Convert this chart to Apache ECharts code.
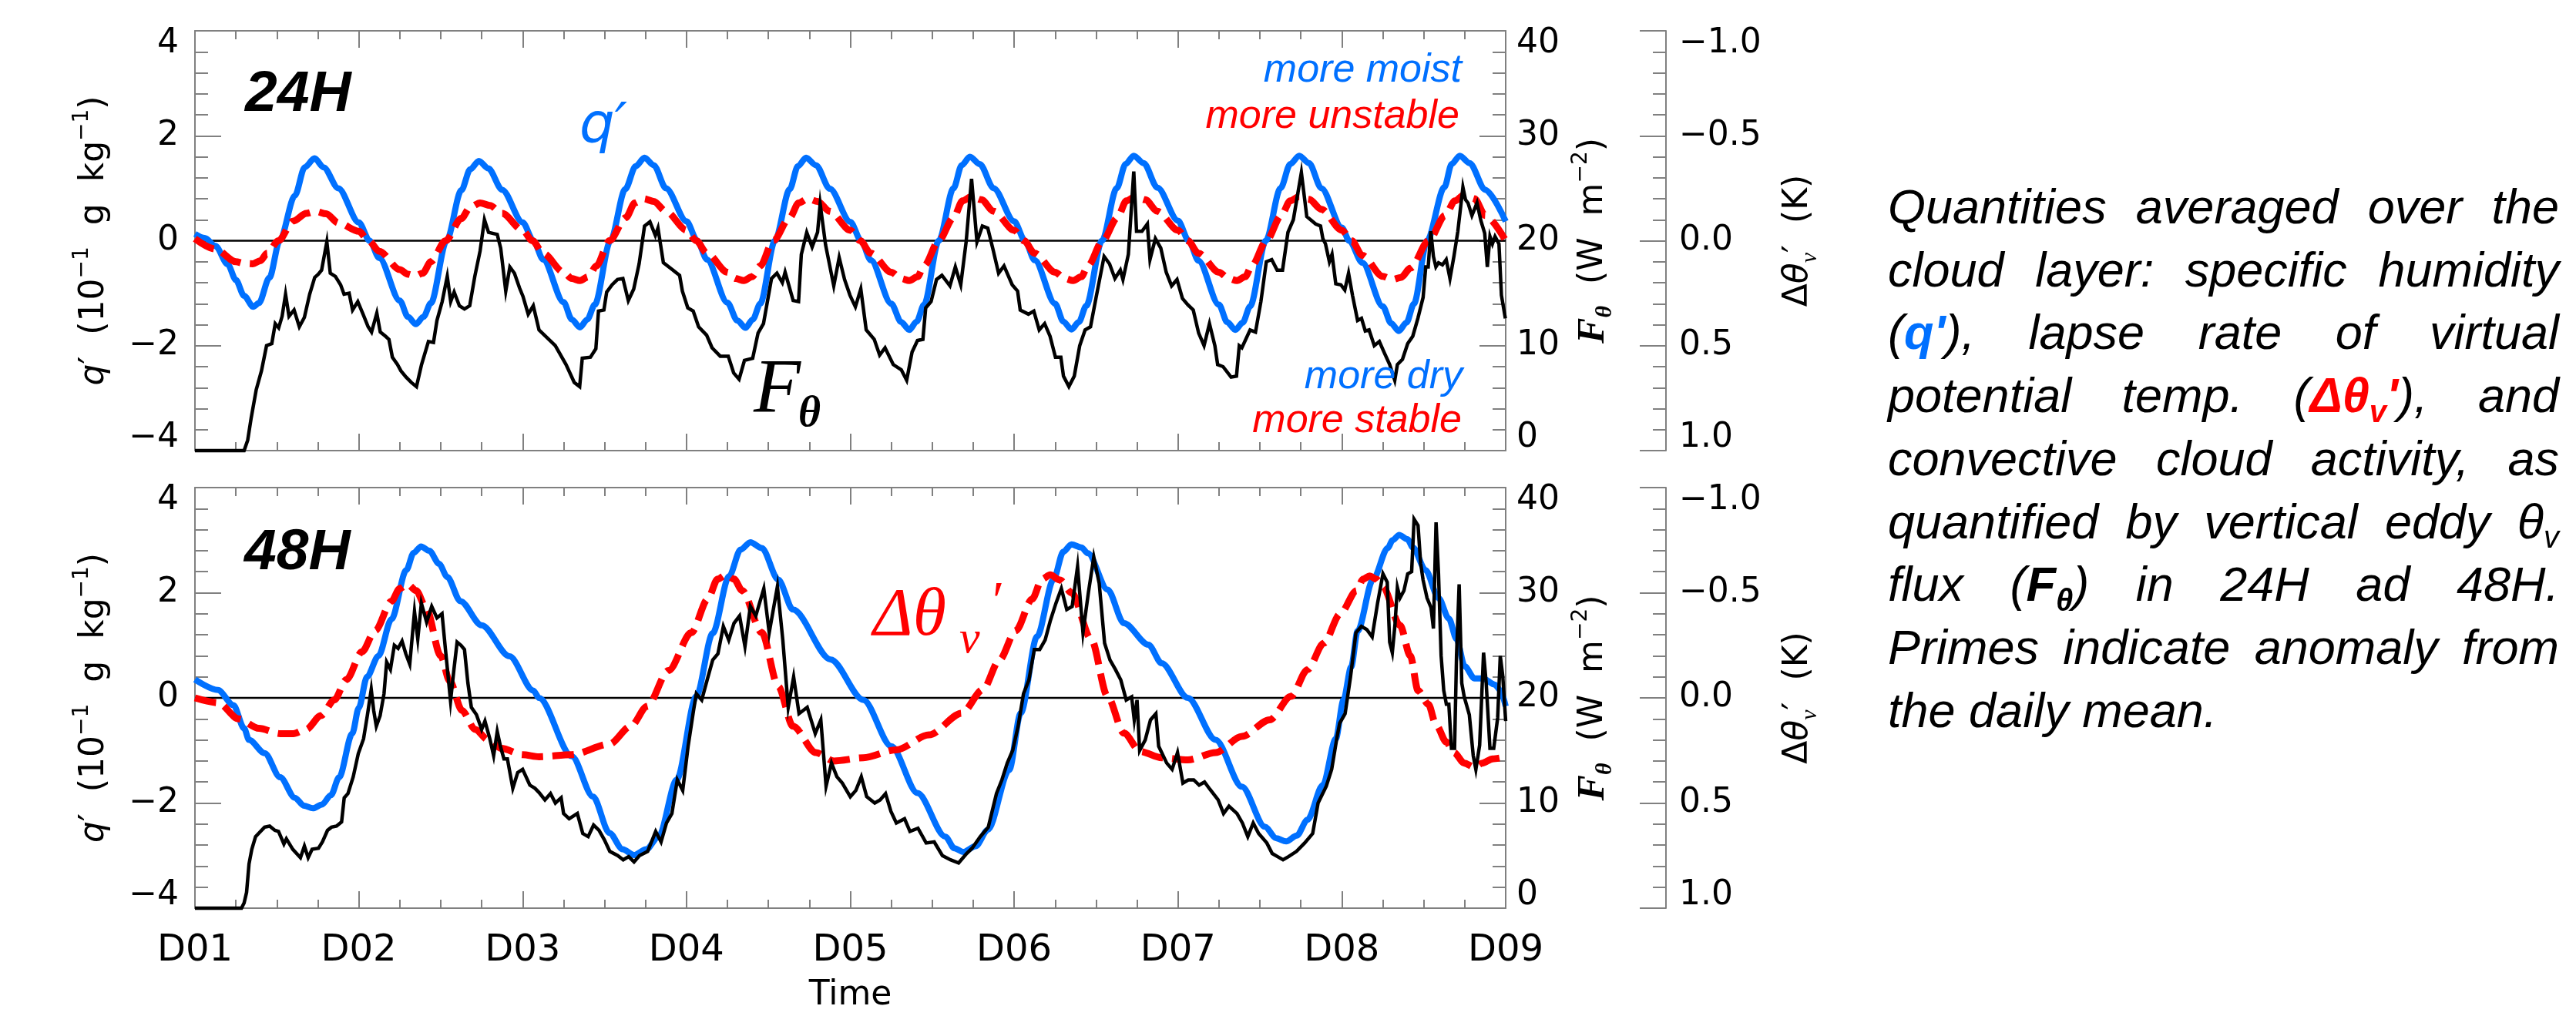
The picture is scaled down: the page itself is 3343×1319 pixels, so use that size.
<!DOCTYPE html>
<html>
<head>
<meta charset="utf-8">
<title>q', Δθv' and Fθ in 24H and 48H</title>
<script src="https://cdn.jsdelivr.net/npm/echarts@6.0.0/dist/echarts.min.js"></script>
<style>
html, body { margin: 0; padding: 0; background: #fff; }
#main { width: 3343px; height: 1319px; }
</style>
</head>
<body>
<div id="main"></div>
<script>
// ---- data (time in days from D01) ----
var dayLabels = ['D01', 'D02', 'D03', 'D04', 'D05', 'D06', 'D07', 'D08', 'D09'];
var zeroRef = [[0, 0], [8, 0]];

// 24H: q' (10^-1 g/kg)
var q24 = [[0,0.13],[0.06,0.05],[0.125,-0.1],[0.2,-0.45],[0.25,-0.75],[0.3,-1.05],[0.356,-1.26],[0.39,-1.19],[0.455,-0.7],[0.517,0],[0.61,0.86],[0.67,1.4],[0.73,1.57],[0.785,1.4],[0.875,1.0],[1.0,0.35],
  [1.066,0],[1.125,-0.33],[1.25,-1.14],[1.3,-1.45],[1.348,-1.59],[1.395,-1.45],[1.44,-1.19],[1.536,0],[1.626,0.96],[1.68,1.36],[1.733,1.52],[1.79,1.38],[1.875,0.97],[2.0,0.35],
  [2.066,0],[2.125,-0.36],[2.25,-1.17],[2.3,-1.5],[2.35,-1.65],[2.395,-1.5],[2.44,-1.22],[2.536,0],[2.626,0.98],[2.69,1.42],[2.744,1.58],[2.8,1.44],[2.875,1.0],[3.0,0.37],
  [3.066,0],[3.125,-0.36],[3.25,-1.18],[3.31,-1.52],[3.36,-1.66],[3.405,-1.5],[3.45,-1.2],[3.54,0],[3.63,0.98],[3.68,1.42],[3.73,1.58],[3.79,1.44],[3.875,0.99],[4.0,0.36],
  [4.066,0],[4.125,-0.37],[4.25,-1.2],[4.31,-1.55],[4.36,-1.7],[4.405,-1.54],[4.45,-1.22],[4.54,0],[4.63,1.0],[4.68,1.44],[4.73,1.6],[4.79,1.46],[4.875,1.0],[5.0,0.37],
  [5.066,0],[5.125,-0.37],[5.25,-1.2],[5.3,-1.54],[5.35,-1.69],[5.395,-1.55],[5.44,-1.24],[5.536,0],[5.626,1.0],[5.68,1.46],[5.73,1.62],[5.79,1.48],[5.875,1.01],[6.0,0.38],
  [6.066,0],[6.125,-0.38],[6.25,-1.22],[6.3,-1.55],[6.35,-1.7],[6.395,-1.56],[6.44,-1.25],[6.536,0],[6.626,1.0],[6.685,1.46],[6.74,1.62],[6.8,1.48],[6.875,1.0],[7.0,0.25],
  [7.045,0],[7.125,-0.42],[7.25,-1.25],[7.3,-1.57],[7.347,-1.72],[7.395,-1.56],[7.44,-1.2],[7.52,0],[7.626,1.02],[7.67,1.46],[7.72,1.62],[7.78,1.48],[7.875,0.97],[8.0,0.37]];

// 24H: delta theta_v' (K)
var dtv24 = [[0,-0.01],[0.125,0.04],[0.25,0.1],[0.3,0.108],[0.353,0.11],[0.4,0.095],[0.44,0.06],[0.51,0],[0.6,-0.094],[0.68,-0.13],[0.737,-0.14],[0.8,-0.128],[0.875,-0.085],[1.0,-0.045],
  [1.06,0],[1.125,0.05],[1.25,0.138],[1.3,0.16],[1.342,0.168],[1.39,0.155],[1.44,0.1],[1.53,0],[1.626,-0.106],[1.68,-0.16],[1.74,-0.18],[1.8,-0.168],[1.875,-0.13],[2.0,-0.05],
  [2.06,0],[2.125,0.06],[2.25,0.15],[2.3,0.18],[2.35,0.19],[2.4,0.172],[2.45,0.12],[2.53,0],[2.63,-0.11],[2.685,-0.18],[2.74,-0.2],[2.8,-0.187],[2.875,-0.14],[3.0,-0.05],
  [3.06,0],[3.125,0.06],[3.25,0.15],[3.3,0.18],[3.35,0.19],[3.4,0.172],[3.45,0.12],[3.53,0],[3.63,-0.11],[3.685,-0.18],[3.74,-0.2],[3.8,-0.187],[3.875,-0.14],[4.0,-0.05],
  [4.06,0],[4.125,0.06],[4.25,0.15],[4.31,0.18],[4.36,0.19],[4.41,0.172],[4.45,0.12],[4.54,0],[4.63,-0.11],[4.685,-0.19],[4.74,-0.21],[4.8,-0.195],[4.875,-0.14],[5.0,-0.05],
  [5.06,0],[5.125,0.06],[5.25,0.15],[5.31,0.18],[5.36,0.19],[5.41,0.172],[5.45,0.12],[5.54,0],[5.63,-0.11],[5.685,-0.19],[5.74,-0.21],[5.8,-0.195],[5.875,-0.14],[6.0,-0.05],
  [6.06,0],[6.125,0.06],[6.25,0.15],[6.31,0.18],[6.36,0.19],[6.41,0.172],[6.45,0.12],[6.54,0],[6.63,-0.12],[6.685,-0.19],[6.74,-0.21],[6.8,-0.197],[6.875,-0.15],[7.0,-0.05],
  [7.06,0],[7.125,0.07],[7.25,0.17],[7.31,0.185],[7.36,0.175],[7.42,0.13],[7.53,0],[7.63,-0.12],[7.69,-0.19],[7.75,-0.22],[7.81,-0.2],[7.875,-0.12],[8.0,0.0]];

// 24H: F_theta (W m^-2)
var ftheta24 = [[0,0],[0.3,0],[0.322,1.0],[0.343,3.1],[0.374,5.8],[0.406,7.6],[0.437,10.0],[0.469,10.2],[0.49,12.1],[0.511,11.7],[0.532,12.8],[0.553,14.9],[0.574,12.8],[0.605,13.4],[0.637,11.8],[0.668,12.7],[0.7,14.9],[0.731,16.5],[0.752,16.8],[0.773,17.2],[0.805,19.9],[0.826,16.9],[0.857,16.6],[0.889,15.8],[0.91,14.9],[0.941,15.0],[0.962,13.4],[0.994,14.2],
  [1.026,13.0],[1.057,11.8],[1.078,11.3],[1.11,13.1],[1.131,11.3],[1.163,10.9],[1.184,10.6],[1.205,8.9],[1.236,8.2],[1.257,7.6],[1.289,7.0],[1.32,6.5],[1.352,6.1],[1.383,8.2],[1.425,10.4],[1.456,10.3],[1.477,12.4],[1.509,14.2],[1.54,16.6],[1.561,14.2],[1.582,15.1],[1.614,13.8],[1.645,13.5],[1.677,13.8],[1.708,16.6],[1.74,19.0],[1.767,22.0],[1.792,20.8],[1.845,20.6],[1.866,19.3],[1.897,15.2],[1.922,17.5],[1.95,16.9],[1.981,15.5],
  [2.002,14.7],[2.034,13.0],[2.065,13.8],[2.1,11.5],[2.199,10.0],[2.265,8.2],[2.315,6.5],[2.348,6.1],[2.364,8.8],[2.414,8.9],[2.447,9.7],[2.463,13.3],[2.496,13.4],[2.513,15.1],[2.546,15.8],[2.579,16.3],[2.612,16.4],[2.645,14.3],[2.678,15.4],[2.711,17.8],[2.744,21.4],[2.777,21.8],[2.81,20.5],[2.826,21.2],[2.859,17.9],[2.909,17.3],[2.958,16.7],[2.975,15.2],
  [3.008,13.6],[3.041,13.3],[3.074,11.8],[3.123,11.0],[3.156,9.8],[3.206,9.0],[3.255,9.0],[3.288,7.4],[3.321,6.8],[3.354,8.6],[3.404,8.8],[3.437,11.2],[3.47,12.1],[3.519,16.4],[3.552,16.9],[3.585,16.0],[3.602,17.0],[3.651,14.3],[3.684,14.2],[3.701,18.7],[3.734,20.8],[3.767,19.4],[3.8,20.8],[3.816,23.5],[3.849,19.6],[3.899,15.7],[3.932,18.4],[3.965,16.3],[3.998,14.8],
  [4.031,13.7],[4.064,15.4],[4.097,11.5],[4.146,10.6],[4.179,9.1],[4.212,9.8],[4.262,8.2],[4.311,7.7],[4.344,6.7],[4.377,9.4],[4.41,10.5],[4.443,10.6],[4.46,13.6],[4.493,14.2],[4.526,16.3],[4.559,16.7],[4.608,15.7],[4.641,17.5],[4.674,15.8],[4.707,19.9],[4.74,25.9],[4.773,19.9],[4.806,21.4],[4.839,21.2],[4.872,19.1],[4.905,16.9],[4.938,17.6],[4.988,15.8],
  [5.021,15.2],[5.037,13.4],[5.087,13.0],[5.12,13.3],[5.153,11.5],[5.186,12.1],[5.219,10.9],[5.252,8.9],[5.285,8.9],[5.301,7.1],[5.334,6.1],[5.367,7.1],[5.4,10.0],[5.433,11.5],[5.466,11.8],[5.499,14.5],[5.549,18.5],[5.582,17.8],[5.615,16.4],[5.648,17.2],[5.664,16.3],[5.697,18.7],[5.73,26.6],[5.747,20.9],[5.78,20.9],[5.813,21.6],[5.829,18.2],[5.862,20.2],[5.895,19.3],[5.928,17.0],[5.961,15.7],[5.994,16.3],
  [6.027,14.5],[6.06,13.9],[6.093,13.4],[6.126,11.2],[6.159,10.0],[6.192,12.1],[6.225,10.0],[6.242,8.2],[6.275,8.0],[6.324,7.0],[6.357,7.1],[6.374,10.0],[6.39,9.8],[6.44,11.5],[6.473,11.3],[6.506,14.2],[6.539,18.0],[6.572,18.2],[6.605,17.2],[6.638,17.2],[6.671,20.8],[6.704,22.0],[6.753,26.5],[6.786,22.3],[6.84,21.6],[6.87,21.4],[6.884,20.2],[6.9,19.7],[6.924,18.0],[6.94,18.7],[6.963,15.9],[6.994,15.8],
  [7.018,15.3],[7.041,16.9],[7.065,14.8],[7.096,12.4],[7.12,12.6],[7.143,11.4],[7.166,11.5],[7.198,10.0],[7.229,10.4],[7.26,9.3],[7.292,8.2],[7.323,6.7],[7.339,8.2],[7.37,8.7],[7.402,10.2],[7.433,10.9],[7.464,12.6],[7.496,14.6],[7.512,17.5],[7.527,17.5],[7.543,20.9],[7.559,18.5],[7.574,17.5],[7.59,17.9],[7.614,17.7],[7.637,18.2],[7.66,16.4],[7.684,18.5],[7.708,20.9],[7.739,25.1],[7.755,23.9],[7.77,23.6],[7.794,22.4],[7.825,23.6],[7.849,21.9],[7.872,20.7],[7.888,17.5],[7.904,20.4],[7.919,19.7],[7.935,20.4],[7.959,19.7],[7.974,14.8],[7.998,12.6]];

// 48H: q'
var q48 = [[0,0.35],[0.14,0.15],[0.235,-0.14],[0.3,-0.58],[0.33,-0.8],[0.425,-1.05],[0.52,-1.51],[0.61,-1.9],[0.665,-2.05],[0.72,-2.1],[0.775,-2.03],[0.83,-1.85],[0.88,-1.51],[0.96,-0.68],[1.0,-0.19],[1.05,0.4],[1.12,0.8],[1.2,1.5],[1.29,2.43],[1.335,2.76],[1.38,2.88],[1.43,2.8],[1.49,2.55],[1.54,2.3],[1.62,1.84],[1.75,1.38],[1.92,0.79],[2.065,0.14],
  [2.1,0],[2.3,-1.11],[2.43,-1.88],[2.53,-2.57],[2.61,-2.88],[2.68,-2.99],[2.755,-2.88],[2.83,-2.64],[2.94,-1.56],[3.06,0.03],[3.16,1.23],[3.26,2.31],[3.33,2.82],[3.39,2.96],[3.46,2.85],[3.56,2.25],[3.65,1.68],[3.88,0.73],[4.08,-0.04],[4.25,-0.92],[4.41,-1.81],[4.58,-2.64],[4.635,-2.86],[4.69,-2.93],[4.765,-2.82],[4.84,-2.51],[4.97,-1.37],[5.04,-0.29],[5.14,1.17],[5.24,2.25],[5.3,2.78],[5.35,2.92],[5.41,2.86],[5.45,2.75],[5.57,2.06],[5.67,1.42],[5.82,1.01],[5.9,0.66],
  [6.06,0],[6.23,-0.8],[6.39,-1.69],[6.53,-2.45],[6.6,-2.67],[6.66,-2.73],[6.725,-2.62],[6.79,-2.32],[6.884,-1.66],[6.963,-0.78],[7.01,-0.04],[7.057,0.59],[7.096,1.27],[7.19,2.25],[7.28,2.85],[7.31,3.0],[7.35,3.1],[7.4,3.02],[7.434,2.86],[7.511,2.43],[7.59,1.9],[7.653,1.51],[7.7,1.12],[7.75,0.6],[7.81,0.37],[7.86,0.37],[7.935,0.25],[7.966,0.15],[8.0,-0.16]];

// 48H: delta theta_v'
var dtv48 = [[0,0.0],[0.141,0.023],[0.267,0.1],[0.39,0.145],[0.52,0.17],[0.6,0.17],[0.678,0.15],[0.77,0.084],[0.85,0.01],[0.925,-0.087],[1.02,-0.22],[1.1,-0.32],[1.2,-0.46],[1.25,-0.52],[1.298,-0.54],[1.35,-0.51],[1.41,-0.43],[1.5,-0.2],[1.555,-0.08],[1.63,0.06],[1.71,0.15],[1.79,0.2],[1.87,0.24],[2.0,0.27],
  [2.1,0.28],[2.3,0.27],[2.53,0.22],[2.66,0.135],[2.76,0.04],[2.89,-0.13],[3.03,-0.31],[3.13,-0.47],[3.19,-0.565],[3.24,-0.585],[3.29,-0.565],[3.34,-0.51],[3.46,-0.31],[3.56,-0.055],[3.65,0.135],[3.79,0.26],[3.9,0.3],[4.08,0.285],[4.28,0.247],[4.48,0.176],[4.68,0.073],[4.81,-0.04],[4.91,-0.18],[5.01,-0.32],[5.11,-0.47],[5.17,-0.565],[5.22,-0.585],[5.28,-0.56],[5.35,-0.5],[5.47,-0.28],[5.57,-0.007],[5.67,0.168],[5.77,0.255],[5.9,0.285],
  [6.06,0.295],[6.23,0.26],[6.39,0.183],[6.56,0.104],[6.69,-0.007],[6.79,-0.134],[6.89,-0.26],[6.99,-0.4],[7.09,-0.51],[7.13,-0.565],[7.17,-0.58],[7.21,-0.565],[7.25,-0.53],[7.355,-0.345],[7.418,-0.2],[7.465,-0.035],[7.528,0.03],[7.575,0.128],[7.638,0.21],[7.684,0.26],[7.747,0.31],[7.81,0.33],[7.857,0.31],[7.92,0.29],[8.0,0.28]];

// 48H: F_theta
var ftheta48 = [[0,0],[0.284,0],[0.3,0.5],[0.315,1.5],[0.33,4.2],[0.347,5.6],[0.37,6.8],[0.394,7.2],[0.425,7.7],[0.456,7.8],[0.488,7.4],[0.51,7.3],[0.543,6.1],[0.558,6.6],[0.597,5.6],[0.644,4.8],[0.668,5.9],[0.691,4.8],[0.715,5.6],[0.754,5.7],[0.778,6.3],[0.809,7.4],[0.833,7.7],[0.864,7.8],[0.895,8.2],[0.911,10.5],[0.934,10.9],[0.966,12.5],[0.997,14.7],
  [1.029,16.1],[1.052,18.3],[1.076,20.8],[1.091,18.8],[1.107,17.3],[1.13,18.3],[1.154,20.4],[1.17,23.4],[1.193,22.7],[1.217,25.0],[1.24,24.7],[1.264,25.4],[1.287,24.2],[1.311,23.2],[1.34,28.2],[1.36,25.6],[1.382,29.0],[1.414,27.2],[1.445,28.7],[1.477,27.6],[1.508,28.0],[1.529,24.6],[1.56,19.7],[1.58,22.6],[1.6,25.3],[1.624,25.0],[1.645,24.6],[1.666,21.4],[1.687,19.1],[1.718,18.4],[1.75,17.0],[1.77,17.8],[1.8,16.1],[1.823,14.5],[1.845,16.8],[1.866,15.3],[1.886,14.2],[1.907,14.2],[1.94,11.4],[1.97,12.9],
  [2.0,13.2],[2.044,11.7],[2.075,11.4],[2.1,11.0],[2.136,10.3],[2.17,10.9],[2.2,10.0],[2.235,10.5],[2.25,9.0],[2.284,8.5],[2.334,9.0],[2.367,7.1],[2.4,6.8],[2.433,7.9],[2.466,7.4],[2.499,6.5],[2.532,5.4],[2.58,5.0],[2.614,4.6],[2.647,4.9],[2.68,4.4],[2.713,5.0],[2.763,5.4],[2.812,7.3],[2.845,6.3],[2.878,8.1],[2.911,9.0],[2.944,12.2],[2.977,11.2],
  [3.01,15.4],[3.043,18.8],[3.06,20.4],[3.093,19.8],[3.126,21.7],[3.16,23.6],[3.192,24.2],[3.225,26.8],[3.258,25.5],[3.29,27.1],[3.324,27.8],[3.357,24.9],[3.39,28.7],[3.423,27.8],[3.472,30.4],[3.505,26.2],[3.555,30.6],[3.588,25.5],[3.621,19.1],[3.654,22.0],[3.687,18.5],[3.737,19.1],[3.786,16.6],[3.82,17.9],[3.852,11.6],[3.885,13.8],[3.918,12.5],[3.951,11.9],
  [4.0,10.6],[4.034,11.2],[4.067,12.5],[4.1,10.6],[4.149,10.0],[4.182,10.3],[4.215,10.9],[4.248,9.2],[4.281,8.1],[4.331,8.5],[4.364,7.3],[4.413,7.6],[4.463,6.2],[4.512,6.3],[4.562,5.0],[4.611,4.6],[4.661,4.3],[4.71,5.2],[4.743,5.7],[4.793,6.8],[4.842,7.7],[4.892,10.9],[4.925,12.2],[4.958,13.8],[4.991,15.0],
  [5.024,17.3],[5.057,20.4],[5.09,21.7],[5.123,24.6],[5.156,24.6],[5.189,25.5],[5.222,27.4],[5.255,29.0],[5.288,30.4],[5.321,28.4],[5.354,28.7],[5.387,32.5],[5.42,26.2],[5.453,30.0],[5.486,33.4],[5.519,30.9],[5.552,25.2],[5.585,23.6],[5.618,22.7],[5.651,21.7],[5.684,19.8],[5.717,20.1],[5.733,17.9],[5.75,19.8],[5.766,15.0],[5.8,16.0],[5.832,17.9],[5.865,18.5],[5.882,15.4],[5.931,13.8],[5.964,13.2],[5.997,14.8],
  [6.03,11.9],[6.063,12.2],[6.096,12.2],[6.129,11.7],[6.162,12.0],[6.195,11.3],[6.245,10.3],[6.278,9.0],[6.311,9.7],[6.36,9.0],[6.393,8.1],[6.426,6.8],[6.459,8.1],[6.492,7.1],[6.542,6.2],[6.575,5.2],[6.608,4.9],[6.641,4.6],[6.674,4.9],[6.723,5.4],[6.773,6.2],[6.822,7.1],[6.855,10.0],[6.905,11.6],[6.938,13.2],[6.971,16.3],[6.987,17.6],
  [7.02,18.5],[7.053,22.0],[7.086,26.2],[7.119,26.8],[7.152,26.5],[7.185,25.8],[7.218,29.0],[7.251,31.8],[7.277,31.0],[7.292,25.3],[7.308,24.3],[7.324,26.9],[7.339,30.5],[7.355,29.5],[7.379,30.2],[7.402,31.8],[7.426,32.0],[7.441,37.0],[7.465,36.4],[7.481,32.8],[7.496,31.2],[7.52,29.5],[7.544,28.6],[7.559,26.6],[7.575,36.7],[7.59,31.8],[7.606,24.0],[7.622,20.7],[7.638,19.4],[7.653,19.4],[7.669,15.2],[7.688,15.2],
  [7.7,24.0],[7.716,30.8],[7.732,21.4],[7.747,20.1],[7.778,18.4],[7.802,14.5],[7.818,13.2],[7.841,15.5],[7.865,24.3],[7.881,21.4],[7.904,15.2],[7.927,15.2],[7.951,18.1],[7.967,24.0],[7.982,22.1],[8.0,17.8]];

// caption on the right, one entry per line; [text, style] runs for mixed words
var noteLines = [
  ['Quantities', 'averaged', 'over', 'the'],
  ['cloud', 'layer:', 'specific', 'humidity'],
  [[['(', 'n'], ["q'", 'qb'], ['),', 'n']], 'lapse', 'rate', 'of', 'virtual'],
  ['potential', 'temp.', [['(', 'n'], ['Δθ', 'rb'], ['v', 'rbs'], ["'", 'rb'], ['),', 'n']], 'and'],
  ['convective', 'cloud', 'activity,', 'as'],
  ['quantified', 'by', 'vertical', 'eddy', [['θ', 'n'], ['v', 'ns']]],
  ['flux', [['(', 'n'], ['F', 'b'], ['θ', 'bs'], [')', 'n']], 'in', '24H', 'ad', '48H.'],
  ['Primes', 'indicate', 'anomaly', 'from'],
  ['the', 'daily', 'mean.']
];

// ---- styling ----
var BLUE = '#0070FF', RED = '#FF0000', AXIS = '#808080';
var SANS = '"DejaVu Sans", sans-serif';
var MINUS = '\u2212';

var chart = echarts.init(document.getElementById('main'));

function fmtNum(v, d) {
  var s = d ? Math.abs(v).toFixed(d) : String(Math.abs(v));
  return (v < 0 ? MINUS : '') + s;
}
function near(a, b) { return Math.abs(a - b) < 1e-9; }

// tick labels at the box ends are pushed inside, like the original
function edgeFormatter(top, bottom, digits) {
  return function (v) {
    var s = fmtNum(v, digits);
    if (near(v, top)) return '{t|' + s + '}';
    if (near(v, bottom)) return '{b|' + s + '}';
    return '{n|' + s + '}';
  };
}
var tickRich = {
  n: { fontSize: 44, fontFamily: SANS, color: '#000' },
  t: { fontSize: 44, fontFamily: SANS, color: '#000', padding: [34, 0, 0, 0] },
  b: { fontSize: 44, fontFamily: SANS, color: '#000', padding: [0, 0, 32, 0] }
};
var lineGray = { color: AXIS, width: 2 };

function xAxisDays(gi, pos, labels) {
  return {
    type: 'value', gridIndex: gi, position: pos, min: 0, max: 8, interval: 1,
    axisLine: { show: true, onZero: false, lineStyle: lineGray },
    axisTick: { show: true, inside: true, length: 22, lineStyle: lineGray },
    minorTick: { show: true, splitNumber: 4, length: 11, lineStyle: lineGray },
    splitLine: { show: false },
    axisLabel: {
      show: labels, margin: 32, fontSize: 48, fontFamily: SANS, color: '#000',
      formatter: function (v) { return dayLabels[Math.round(v)]; }
    },
    name: labels ? 'Time' : '', nameLocation: 'middle', nameGap: 92,
    nameTextStyle: { fontSize: 44, fontFamily: SANS, color: '#000' }
  };
}

function yAxisQ(gi) {
  return {
    type: 'value', gridIndex: gi, position: 'left', min: -4, max: 4, interval: 2,
    axisLine: { show: true, onZero: false, lineStyle: lineGray },
    axisTick: { show: true, inside: true, length: 34, lineStyle: lineGray },
    minorTick: { show: true, splitNumber: 5, length: 17, lineStyle: lineGray },
    splitLine: { show: false },
    axisLabel: { margin: 21, formatter: edgeFormatter(4, -4, 0), rich: tickRich },
    name: '{i|q}{n|\u2032  (10}{s|' + MINUS + '1}{n|  g  kg}{s|' + MINUS + '1}{n|)}',
    nameLocation: 'middle', nameRotate: 90, nameGap: 100,
    nameTextStyle: {
      rich: {
        i: { fontSize: 44, fontFamily: SANS, fontStyle: 'italic', color: '#000', lineHeight: 60 },
        n: { fontSize: 44, fontFamily: SANS, color: '#000', lineHeight: 60 },
        s: { fontSize: 28, fontFamily: SANS, color: '#000', lineHeight: 28, verticalAlign: 'top' }
      }
    }
  };
}

function yAxisF(gi) {
  return {
    type: 'value', gridIndex: gi, position: 'right', min: 0, max: 40, interval: 10,
    axisLine: { show: true, onZero: false, lineStyle: lineGray },
    axisTick: { show: true, inside: true, length: 34, lineStyle: lineGray },
    minorTick: { show: true, splitNumber: 5, length: 17, lineStyle: lineGray },
    splitLine: { show: false },
    axisLabel: { margin: 14, formatter: edgeFormatter(40, 0, 0), rich: tickRich },
    name: '{f|F}{fs|\u03b8}{n|  (W  m}{s|' + MINUS + '2}{n|)}',
    nameLocation: 'middle', nameRotate: 90, nameGap: 84,
    nameTextStyle: {
      rich: {
        f: { fontSize: 50, fontFamily: '"Liberation Serif", serif', fontStyle: 'italic', fontWeight: 'bold', color: '#000', lineHeight: 60 },
        fs: { fontSize: 30, fontFamily: '"Liberation Serif", serif', fontStyle: 'italic', fontWeight: 'bold', color: '#000', lineHeight: 30, verticalAlign: 'bottom' },
        n: { fontSize: 44, fontFamily: SANS, color: '#000', lineHeight: 60 },
        s: { fontSize: 28, fontFamily: SANS, color: '#000', lineHeight: 28, verticalAlign: 'top' }
      }
    }
  };
}

function yAxisDT(gi) {
  return {
    type: 'value', gridIndex: gi, position: 'right', offset: 208, min: -1, max: 1, interval: 0.5, inverse: true,
    axisLine: { show: true, onZero: false, lineStyle: lineGray },
    axisTick: { show: true, inside: true, length: 34, lineStyle: lineGray },
    minorTick: { show: true, splitNumber: 5, length: 17, lineStyle: lineGray },
    splitLine: { show: false },
    axisLabel: { margin: 17, formatter: edgeFormatter(-1, 1, 1), rich: tickRich },
    name: '{n|\u0394}{i|\u03b8}{sub|v}{n|\u2032  (K)}',
    nameLocation: 'middle', nameRotate: 90, nameGap: 142,
    nameTextStyle: {
      rich: {
        n: { fontSize: 44, fontFamily: SANS, color: '#000', lineHeight: 60 },
        i: { fontSize: 44, fontFamily: SANS, fontStyle: 'italic', color: '#000', lineHeight: 60 },
        sub: { fontSize: 30, fontFamily: '"Liberation Serif", serif', fontStyle: 'italic', color: '#000', lineHeight: 30, verticalAlign: 'bottom' }
      }
    }
  };
}

function panelSeries(xi, yq, yf, yd, q, dtv, f) {
  return [
    { type: 'line', xAxisIndex: xi, yAxisIndex: yq, data: zeroRef, symbol: 'none', silent: true, z: 1,
      lineStyle: { color: '#000', width: 2.5 } },
    { type: 'line', xAxisIndex: xi, yAxisIndex: yq, data: q, symbol: 'none', smooth: 0.3, smoothMonotone: 'x', z: 2,
      lineStyle: { color: BLUE, width: 8 } },
    { type: 'line', xAxisIndex: xi, yAxisIndex: yd, data: dtv, symbol: 'none', smooth: 0.3, smoothMonotone: 'x', z: 3,
      lineStyle: { color: RED, width: 9, type: [28, 12], cap: 'butt' } },
    { type: 'line', xAxisIndex: xi, yAxisIndex: yf, data: f, symbol: 'none', clip: false, z: 4,
      lineStyle: { color: '#000', width: 4.5, join: 'miter' } }
  ];
}

// ---- in-plot and caption texts ----
function label(text, x, base, o) {
  var fs = o.size;
  return {
    type: 'text', x: x, y: base - 0.31 * fs, silent: true, z: 20,
    style: {
      text: text, fill: o.color || '#000', fontSize: fs,
      fontFamily: o.family || '"Liberation Sans", Arial, sans-serif',
      fontStyle: o.style || 'normal', fontWeight: o.weight || 'normal',
      align: o.align || 'left', textAlign: o.align || 'left',
      verticalAlign: 'middle', textVerticalAlign: 'middle'
    }
  };
}

var NOTE = { x0: 2450, x1: 3321, base: 292, lead: 81.7 };
var NOTE_STYLES = {
  n:   { weight: 'normal', color: '#000', size: 63, dy: 0 },
  qb:  { weight: 'bold', color: BLUE, size: 63, dy: 0 },
  rb:  { weight: 'bold', color: RED, size: 63, dy: 0 },
  rbs: { weight: 'bold', color: RED, size: 40, dy: 12 },
  ns:  { weight: 'normal', color: '#000', size: 40, dy: 12 },
  b:   { weight: 'bold', color: '#000', size: 63, dy: 0 },
  bs:  { weight: 'bold', color: '#000', size: 40, dy: 12 }
};
var measureCtx = document.createElement('canvas').getContext('2d');
function fontOf(st) { return 'italic ' + st.weight + ' ' + st.size + 'px "Liberation Sans", Arial, sans-serif'; }
function textW(s, font) { measureCtx.font = font; return measureCtx.measureText(s).width; }

function buildNote() {
  var els = [];
  noteLines.forEach(function (line, li) {
    var base = NOTE.base + li * NOTE.lead;
    var words = line.map(function (w) { return typeof w === 'string' ? [[w, 'n']] : w; });
    var widths = words.map(function (runs) {
      return runs.reduce(function (s, r) { return s + textW(r[0], fontOf(NOTE_STYLES[r[1]])); }, 0);
    });
    var total = widths.reduce(function (a, b) { return a + b; }, 0);
    var last = li === noteLines.length - 1;
    var gap = last ? textW(' ', fontOf(NOTE_STYLES.n)) : (NOTE.x1 - NOTE.x0 - total) / (words.length - 1);
    var x = NOTE.x0;
    words.forEach(function (runs, wi) {
      var rx = x;
      runs.forEach(function (r) {
        var st = NOTE_STYLES[r[1]];
        els.push(label(r[0], rx, base + st.dy, { size: st.size, color: st.color, weight: st.weight, style: 'italic' }));
        rx += textW(r[0], fontOf(st));
      });
      x += widths[wi] + gap;
    });
  });
  return els;
}

var SERIF = '"Liberation Serif", "DejaVu Serif", serif';
var plotTexts = [
  label('24H', 318, 147, { size: 75, weight: 'bold', style: 'italic' }),
  label('48H', 317, 742, { size: 75, weight: 'bold', style: 'italic' }),
  label('q\u2032', 752, 188, { size: 72, style: 'italic', color: BLUE, family: SANS }),
  label('F', 978, 539, { size: 100, style: 'italic', family: SERIF }),
  label('\u03b8', 1036, 556, { size: 56, style: 'italic', weight: 'bold', family: SERIF }),
  label('\u0394\u03b8', 1133, 828, { size: 88, style: 'italic', color: RED, family: SERIF }),
  label('v', 1245, 850, { size: 60, style: 'italic', color: RED, family: SERIF }),
  label('\u2032', 1288, 806, { size: 70, color: RED, family: SERIF }),
  label('more moist', 1897, 108, { size: 52, style: 'italic', color: BLUE, align: 'right' }),
  label('more unstable', 1894, 168, { size: 52, style: 'italic', color: RED, align: 'right' }),
  label('more dry', 1898, 506, { size: 52, style: 'italic', color: BLUE, align: 'right' }),
  label('more stable', 1897, 563, { size: 52, style: 'italic', color: RED, align: 'right' })
];

var option = {
  backgroundColor: '#fff',
  animation: false,
  grid: [
    { left: 253, top: 40, width: 1701, height: 545, outerBoundsMode: 'none' },
    { left: 253, top: 633, width: 1701, height: 546, outerBoundsMode: 'none' }
  ],
  xAxis: [xAxisDays(0, 'bottom', false), xAxisDays(0, 'top', false), xAxisDays(1, 'bottom', true), xAxisDays(1, 'top', false)],
  yAxis: [yAxisQ(0), yAxisF(0), yAxisDT(0), yAxisQ(1), yAxisF(1), yAxisDT(1)],
  series: panelSeries(0, 0, 1, 2, q24, dtv24, ftheta24).concat(panelSeries(2, 3, 4, 5, q48, dtv48, ftheta48)),
  graphic: plotTexts.concat(buildNote())
};
chart.setOption(option);
</script>
</body>
</html>
